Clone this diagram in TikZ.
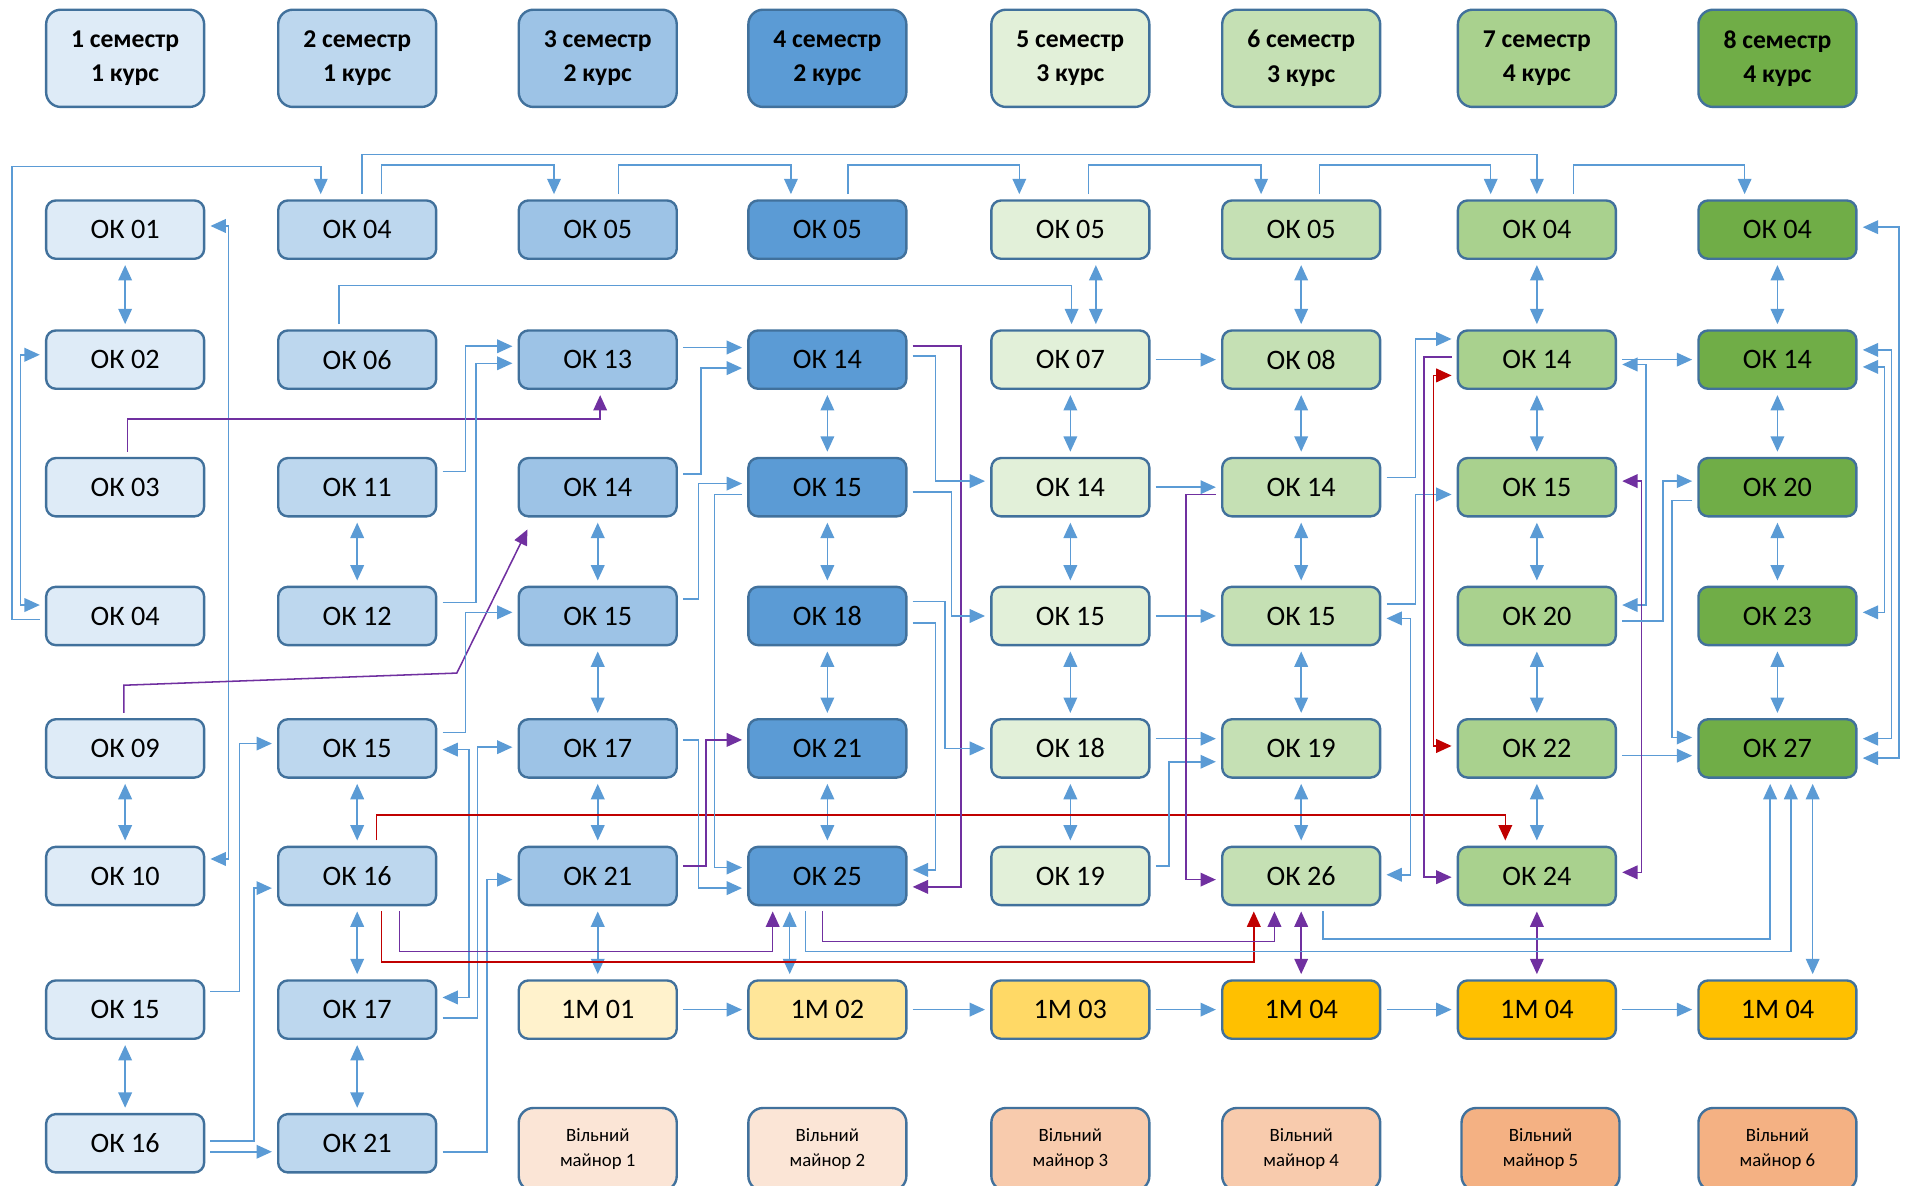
\documentclass[tikz,border=0pt]{standalone}
\usepackage{fontspec}
\setmainfont{Carlito}
\usetikzlibrary{arrows.meta,calc}

\definecolor{bordc}{HTML}{41719C}
\definecolor{lnblue}{HTML}{5B9BD5}
\definecolor{lnpurple}{HTML}{7030A0}
\definecolor{lnred}{HTML}{C00000}
\definecolor{c1}{HTML}{DEEBF7}
\definecolor{c2}{HTML}{BDD7EE}
\definecolor{c3}{HTML}{9DC3E6}
\definecolor{c4}{HTML}{5B9BD5}
\definecolor{c5}{HTML}{E2F0D9}
\definecolor{c6}{HTML}{C5E0B4}
\definecolor{c7}{HTML}{A9D18E}
\definecolor{c8}{HTML}{70AD47}
\definecolor{y1}{HTML}{FFF2CC}
\definecolor{y2}{HTML}{FFE699}
\definecolor{y3}{HTML}{FFD966}
\definecolor{y4}{HTML}{FFC000}
\definecolor{o1}{HTML}{FBE5D6}
\definecolor{o2}{HTML}{F8CBAD}
\definecolor{o3}{HTML}{F4B183}

\def\rowpos{{189,296,401,507,616,721,831,941}}

\begin{document}
\begin{tikzpicture}[x=0.025cm,y=-0.025cm,
  >={Triangle[length=9pt,width=8pt]},
  box/.style={draw=bordc,line width=1.4pt,rounded corners=0.2cm,fill=#1,
    minimum width=3.25cm,minimum height=1.2cm,inner sep=0pt,
    font=\fontsize{16.5}{19}\selectfont},
  semhead/.style={box=#1,minimum height=2cm,rounded corners=0.3cm,
    align=center,font=\fontsize{15}{20}\selectfont\bfseries},
  mnr/.style={box=#1,minimum height=1.7cm,rounded corners=0.3cm,
    align=center,font=\fontsize{11}{14.5}\selectfont},
  conn/.style={draw=lnblue,line width=0.9pt,shorten <=3pt,shorten >=3pt},
  arr/.style={conn,->},
  arrs/.style={conn,<->},
  pur/.style={conn,draw=lnpurple,->},
  rd/.style={conn,draw=lnred,->}]
  \clip (0,0) rectangle (1568,976);
  \useasboundingbox (0,0) rectangle (1568,976);

  % semesters
  \foreach \c/\x/\k in {1/103/1,2/294/1,3/492/2,4/681/2,5/881/3,6/1071/3,7/1265/4,8/1463/4}
    \node[semhead=c\c] (h\c) at (\x,48) {\c\ семестр\\\k\ курс};

  % disciplines
  \foreach \t [count=\r] in {01,02,03,04,09,10,15,16}
    {\pgfmathsetmacro\yy{\rowpos[\r-1]}
     \node[box=c1] (k1\r) at (103,\yy) {ОК \t};}
  \foreach \t [count=\r] in {04,06,11,12,15,16,17,21}
    {\pgfmathsetmacro\yy{\rowpos[\r-1]}
     \node[box=c2] (k2\r) at (294,\yy) {ОК \t};}
  \foreach \t [count=\r] in {05,13,14,15,17,21}
    {\pgfmathsetmacro\yy{\rowpos[\r-1]}
     \node[box=c3] (k3\r) at (492,\yy) {ОК \t};}
  \foreach \t [count=\r] in {05,14,15,18,21,25}
    {\pgfmathsetmacro\yy{\rowpos[\r-1]}
     \node[box=c4] (k4\r) at (681,\yy) {ОК \t};}
  \foreach \t [count=\r] in {05,07,14,15,18,19}
    {\pgfmathsetmacro\yy{\rowpos[\r-1]}
     \node[box=c5] (k5\r) at (881,\yy) {ОК \t};}
  \foreach \t [count=\r] in {05,08,14,15,19,26}
    {\pgfmathsetmacro\yy{\rowpos[\r-1]}
     \node[box=c6] (k6\r) at (1071,\yy) {ОК \t};}
  \foreach \t [count=\r] in {04,14,15,20,22,24}
    {\pgfmathsetmacro\yy{\rowpos[\r-1]}
     \node[box=c7] (k7\r) at (1265,\yy) {ОК \t};}
  \foreach \t [count=\r] in {04,14,20,23,27}
    {\pgfmathsetmacro\yy{\rowpos[\r-1]}
     \node[box=c8] (k8\r) at (1463,\yy) {ОК \t};}

  % minors
  \foreach \c/\x/\n/\f in {3/492/01/y1,4/681/02/y2,5/881/03/y3,6/1071/04/y4,7/1265/04/y4,8/1463/04/y4}
    \node[box=\f] (k\c7) at (\x,831) {1М \n};
  \foreach \c/\x/\n/\f in {3/492/1/o1,4/681/2/o1,5/881/3/o2,6/1071/4/o2,7/1268/5/o3,8/1463/6/o3}
    \node[mnr=\f] (k\c8) at (\x,946) {Вільний\\майнор \n};

  % links inside a column
  \foreach \a/\b in {k11/k12,k15/k16,k17/k18,k23/k24,k25/k26,k26/k27,k27/k28,
      k33/k34,k34/k35,k35/k36,k36/k37,k42/k43,k43/k44,k44/k45,k45/k46,
      k52/k53,k53/k54,k54/k55,k55/k56,k61/k62,k62/k63,k63/k64,k64/k65,k65/k66,
      k71/k72,k72/k73,k73/k74,k74/k75,k75/k76,k81/k82,k82/k83,k83/k84,k84/k85}
    \draw[arrs] (\a) -- (\b);
  \draw[arrs] (k46.south -| 650,0) -- (k47.north -| 650,0);
  \draw[arrs] (k51.south -| 902,0) -- (k52.north -| 902,0);
  \draw[arrs] (k85.south -| 1492,0) -- (k87.north -| 1492,0);
  \draw[pur,<->] (k66) -- (k67);
  \draw[pur,<->] (k76) -- (k77);

  % straight links
  \foreach \a/\b in {k37/k47,k47/k57,k57/k67,k67/k77,k77/k87,k52/k62,k53/k63,k54/k64,k72/k82}
    \draw[arr] (\a) -- (\b);
  \draw[arr] (k32.east |- 0,286) -- (k42.west |- 0,286);
  \draw[arr] (k55.east |- 0,608) -- (k65.west |- 0,608);
  \draw[arr] (k75.east |- 0,622) -- (k85.west |- 0,622);
  \draw[arr] (k18.east |- 0,948) -- (k28.west |- 0,948);

  % top lines
  \draw[arr] (k14.west |- 0,510) -| (10,137) -| (k21.north -| 264,0);
  \draw[arr] (k21.north -| 298,0) |- (1265,127) -- (k71.north);
  \draw[arr] (k21.north -| 314,0) |- (456,136) -- (k31.north -| 456,0);
  \draw[arr] (k31.north -| 509,0) |- (651,136) -- (k41.north -| 651,0);
  \draw[arr] (k41.north -| 698,0) |- (839,136) -- (k51.north -| 839,0);
  \draw[arr] (k51.north -| 896,0) |- (1038,136) -- (k61.north -| 1038,0);
  \draw[arr] (k61.north -| 1086,0) |- (1227,136) -- (k71.north -| 1227,0);
  \draw[arr] (k71.north -| 1295,0) |- (1436,136) -- (k81.north -| 1436,0);
  \draw[arr] (k22.north -| 279,0) |- (882,235) -- (k52.north -| 882,0);

  % semester 1-2
  \draw[arrs] (k12.west |- 0,292) -| (17,498) -- (k14.west |- 0,498);
  \draw[arrs] (k11.east |- 0,186) -| (188,707) -- (k16.east |- 0,707);
  \draw[arr] (k17.east |- 0,816) -| (197,612) -- (k25.west |- 0,612);
  \draw[arr] (k18.east |- 0,939) -| (209,731) -- (k26.west |- 0,731);
  \draw[pur] (k13.north -| 105,0) |- (494,345) -- (k32.south -| 494,0);
  \draw[pur] (k15.north -| 102,0) -- (102,564) -- (376,554) -- ($(k33.south west)+(10,6)$);
  \draw[arr] (k23.east |- 0,388) -| (383,285) -- (k32.west |- 0,285);
  \draw[arr] (k24.east |- 0,496) -| (392,299) -- (k32.west |- 0,299);
  \draw[arr] (k25.east |- 0,603) -| (383,504) -- (k34.west |- 0,504);
  \draw[arrs] (k25.east |- 0,617) -| (386,821) -- (k27.east |- 0,821);
  \draw[arr] (k27.east |- 0,838) -| (393,615) -- (k35.west |- 0,615);
  \draw[arr] (k28.east |- 0,948) -| (401,724) -- (k36.west |- 0,724);
  \draw[rd] (k26.north -| 310,0) |- (1239,671) -- (k76.north -| 1239,0);
  \draw[pur] (k26.south -| 329,0) |- (636,783) -- (k46.south -| 636,0);
  \draw[rd] (k26.south -| 314,0) |- (1032,792) -- (k66.south -| 1032,0);

  % semester 3-4
  \draw[arr] (k33.east |- 0,390) -| (577,303) -- (k42.west |- 0,303);
  \draw[arr] (k34.east |- 0,493) -| (575,398) -- (k43.west |- 0,398);
  \draw[arr] (k35.east |- 0,609) -| (575,731) -- (k46.west |- 0,731);
  \draw[arr] (k43.west |- 0,407) -| (588,714) -- (k46.west |- 0,714);
  \draw[pur] (k36.east |- 0,713) -| (581,609) -- (k45.west |- 0,609);
  \draw[pur] (k42.east |- 0,285) -| (791,730) -- (k46.east |- 0,730);
  \draw[arr] (k42.east |- 0,293) -| (770,396) -- (k53.west |- 0,396);
  \draw[arr] (k43.east |- 0,405) -| (783,507) -- (k54.west |- 0,507);
  \draw[arr] (k44.east |- 0,495) -| (778,616) -- (k55.west |- 0,616);
  \draw[arr] (k44.east |- 0,513) -| (770,716) -- (k46.east |- 0,716);
  \draw[arr] (k46.south -| 663,0) |- (1474,783) -- (k85.south -| 1474,0);
  \draw[pur] (k46.south -| 677,0) |- (1049,775) -- (k66.south -| 1049,0);

  % semester 5-6
  \draw[arr] (k56.east |- 0,713) -| (962,627) -- (k65.west |- 0,627);
  \draw[pur] (k63.west |- 0,407) -| (976,724) -- (k66.west |- 0,724);
  \draw[arr] (k63.east |- 0,393) -| (1165,279) -- (k72.west |- 0,279);
  \draw[arr] (k64.east |- 0,497) -| (1165,407) -- (k73.west |- 0,407);
  \draw[arrs] (k64.east |- 0,509) -| (1161,720) -- (k66.east |- 0,720);
  \draw[arr] (k66.south -| 1089,0) |- (1457,773) -- (k85.south -| 1457,0);

  % semester 7-8
  \draw[pur] (k72.west |- 0,294) -| (1172,722) -- (k76.west |- 0,722);
  \draw[rd,<->] (k72.west |- 0,309) -| (1180,614) -- (k75.west |- 0,614);
  \draw[arrs] (k72.east |- 0,300) -| (1355,498) -- (k74.east |- 0,498);
  \draw[pur,<->] (k73.east |- 0,396) -| (1351,718) -- (k76.east |- 0,718);
  \draw[arr] (k74.east |- 0,511) -| (1369,396) -- (k83.west |- 0,396);
  \draw[arr] (k83.west |- 0,412) -| (1376,607) -- (k85.west |- 0,607);
  \draw[arrs] (k81.east |- 0,187) -| (1563,624) -- (k85.east |- 0,624);
  \draw[arrs] (k82.east |- 0,288) -| (1557,608) -- (k85.east |- 0,608);
  \draw[arrs] (k82.east |- 0,302) -| (1551,504) -- (k84.east |- 0,504);
\end{tikzpicture}
\end{document}
